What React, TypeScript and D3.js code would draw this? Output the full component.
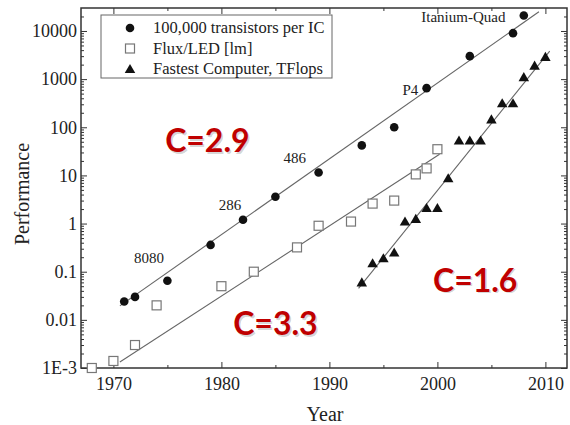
import React, { useEffect, useRef } from 'react';
import * as d3 from 'd3';

// year, value
const transistors: [number, number][] = [
  [1971, 0.024], [1972, 0.03], [1975, 0.065], [1979, 0.36], [1982, 1.2],
  [1985, 3.6], [1989, 11.5], [1993, 42], [1996, 100], [1999, 650],
  [2003, 3000], [2007, 9000], [2008, 21000],
];
const fluxLed: [number, number][] = [
  [1968, 0.001], [1970, 0.0014], [1972, 0.003], [1974, 0.02], [1980, 0.05],
  [1983, 0.1], [1987, 0.32], [1989, 0.9], [1992, 1.1], [1994, 2.6],
  [1996, 3.0], [1998, 10.5], [1999, 14], [2000, 35],
];
const computers: [number, number][] = [
  [1993, 0.06], [1994, 0.15], [1995, 0.19], [1996, 0.25], [1997, 1.1],
  [1998, 1.25], [1999, 2.1], [2000, 2.1], [2001, 8.7], [2002, 53],
  [2003, 53], [2004, 53], [2005, 146], [2006, 316], [2007, 316],
  [2008, 1100], [2009, 1900], [2010, 2900],
];

// fitted lines (end points)
const transFit: [number, number][] = [[1970.6, 0.0195], [2009.4, 25000]];
const fluxFit: [number, number][] = [[1970.6, 0.00133], [2000.2, 27.5]];
const compFit: [number, number][] = [[1992.7, 0.045], [2010.4, 3800]];

const chipLabels: { text: string; year: number; value: number }[] = [
  { text: '8080', year: 1973.3, value: 0.15 },
  { text: '286', year: 1980.8, value: 1.95 },
  { text: '486', year: 1986.8, value: 18 },
  { text: 'P4', year: 1997.5, value: 470 },
  { text: 'Itanium-Quad', year: 2002.4, value: 15000 },
];

const cLabels: { text: string; year: number; value: number }[] = [
  { text: 'C=2.9', year: 1978.7, value: 30 },
  { text: 'C=3.3', year: 1985, value: 0.0048 },
  { text: 'C=1.6', year: 2003.5, value: 0.038 },
];

const legendItems = ['100,000 transistors per IC', 'Flux/LED [lm]', 'Fastest Computer, TFlops'];

const xTicks = [1970, 1980, 1990, 2000, 2010];
const xMinor = [1975, 1985, 1995, 2005];
const yTicks = [1e4, 1e3, 100, 10, 1, 0.1, 0.01, 0.001];
const yTickLabels = ['10000', '1000', '100', '10', '1', '0.1', '0.01', '1E-3'];

const W = 570;
const H = 425;
const M = { left: 81, right: 567, top: 8, bottom: 368 };
const serif = '"Liberation Serif", "Times New Roman", serif';

export default function App() {
  const ref = useRef<SVGSVGElement>(null);

  useEffect(() => {
    const svg = d3.select(ref.current);
    svg.selectAll('*').remove();

    const x = d3.scaleLinear().domain([1967, 2012]).range([M.left, M.right]);
    const y = d3.scaleLog().domain([1e-3, 3e4]).range([M.bottom, M.top]);

    svg.append('rect').attr('width', W).attr('height', H).attr('fill', '#fff');

    const yMinor: number[] = [];
    for (let e = -3; e <= 4; e++) {
      for (let k = 2; k <= 9; k++) {
        const v = k * Math.pow(10, e);
        if (v < 3e4) yMinor.push(v);
      }
    }

    const axisColor = '#333';
    const styleAxis = (g: any) => {
      g.select('.domain').remove();
      g.selectAll('line').attr('stroke', axisColor).attr('stroke-width', 1);
      g.selectAll('text')
        .attr('font-family', serif)
        .attr('font-size', 18)
        .attr('fill', '#222');
    };

    // left
    svg.append('g').attr('transform', `translate(${M.left},0)`)
      .call(d3.axisLeft(y).tickValues(yTicks).tickSize(-6).tickPadding(4)
        .tickFormat((_d, i) => yTickLabels[i]))
      .call(styleAxis);
    svg.append('g').attr('transform', `translate(${M.left},0)`)
      .call(d3.axisLeft(y).tickValues(yMinor).tickSize(-3).tickFormat(() => ''))
      .call(styleAxis);
    // right
    svg.append('g').attr('transform', `translate(${M.right},0)`)
      .call(d3.axisRight(y).tickValues(yTicks).tickSize(-6).tickFormat(() => ''))
      .call(styleAxis);
    svg.append('g').attr('transform', `translate(${M.right},0)`)
      .call(d3.axisRight(y).tickValues(yMinor).tickSize(-3).tickFormat(() => ''))
      .call(styleAxis);
    // bottom
    svg.append('g').attr('transform', `translate(0,${M.bottom})`)
      .call(d3.axisBottom(x).tickValues(xTicks).tickSize(-6).tickPadding(9)
        .tickFormat(d3.format('d')))
      .call(styleAxis);
    svg.append('g').attr('transform', `translate(0,${M.bottom})`)
      .call(d3.axisBottom(x).tickValues(xMinor).tickSize(-3).tickFormat(() => ''))
      .call(styleAxis);
    // top
    svg.append('g').attr('transform', `translate(0,${M.top})`)
      .call(d3.axisTop(x).tickValues(xTicks).tickSize(-6).tickFormat(() => ''))
      .call(styleAxis);
    svg.append('g').attr('transform', `translate(0,${M.top})`)
      .call(d3.axisTop(x).tickValues(xMinor).tickSize(-3).tickFormat(() => ''))
      .call(styleAxis);

    svg.append('rect')
      .attr('x', M.left).attr('y', M.top)
      .attr('width', M.right - M.left).attr('height', M.bottom - M.top)
      .attr('fill', 'none').attr('stroke', axisColor).attr('stroke-width', 1.5);

    // fit lines
    const line = d3.line<[number, number]>().x(d => x(d[0])).y(d => y(d[1]));
    [transFit, fluxFit, compFit].forEach(f => {
      svg.append('path').attr('d', line(f)!)
        .attr('fill', 'none').attr('stroke', '#666').attr('stroke-width', 1.1);
    });

    const tri = d3.symbol().type(d3.symbolTriangle).size(48);
    const drawCircle = (g: any, cx: number, cy: number) =>
      g.append('circle').attr('cx', cx).attr('cy', cy).attr('r', 4.3).attr('fill', '#111');
    const drawSquare = (g: any, cx: number, cy: number) =>
      g.append('rect').attr('x', cx - 4.5).attr('y', cy - 4.5).attr('width', 9).attr('height', 9)
        .attr('fill', '#fff').attr('stroke', '#777').attr('stroke-width', 1.2);
    const drawTri = (g: any, cx: number, cy: number) =>
      g.append('path').attr('d', tri()!).attr('transform', `translate(${cx},${cy + 1})`)
        .attr('fill', '#111');

    const marks = svg.append('g');
    fluxLed.forEach(d => drawSquare(marks, x(d[0]), y(d[1])));
    transistors.forEach(d => drawCircle(marks, x(d[0]), y(d[1])));
    computers.forEach(d => drawTri(marks, x(d[0]), y(d[1])));

    // chip labels
    chipLabels.forEach(l => {
      svg.append('text').attr('x', x(l.year)).attr('y', y(l.value))
        .attr('text-anchor', 'middle')
        .attr('font-family', serif).attr('font-size', 15).attr('fill', '#222')
        .text(l.text);
    });

    // C labels
    cLabels.forEach(l => {
      const t = svg.append('g').attr('transform', `translate(${x(l.year)},${y(l.value)})`);
      t.append('text').attr('x', 1.5).attr('y', 1.5).attr('text-anchor', 'middle')
        .attr('font-family', 'Lato, "Open Sans", sans-serif').attr('font-weight', 'bold')
        .attr('font-size', 32).attr('fill', 'rgba(0,0,0,0.18)').text(l.text);
      t.append('text').attr('text-anchor', 'middle')
        .attr('font-family', 'Lato, "Open Sans", sans-serif').attr('font-weight', 'bold')
        .attr('font-size', 32).attr('fill', '#c00000').text(l.text);
    });

    // legend
    const lg = svg.append('g');
    lg.append('rect').attr('x', 101).attr('y', 15).attr('width', 231).attr('height', 63)
      .attr('fill', '#fff').attr('stroke', '#666').attr('stroke-width', 1);
    const drawers = [drawCircle, drawSquare, drawTri];
    legendItems.forEach((name, i) => {
      const cy = 28 + i * 20.5;
      drawers[i](lg, 130, cy);
      lg.append('text').attr('x', 153).attr('y', cy).attr('dy', '0.33em')
        .attr('font-family', serif).attr('font-size', 16.5).attr('fill', '#222')
        .text(name);
    });

    // axis titles
    svg.append('text').attr('x', (M.left + M.right) / 2 + 1).attr('y', 421)
      .attr('text-anchor', 'middle').attr('font-family', serif).attr('font-size', 20)
      .attr('fill', '#222').text('Year');
    svg.append('text')
      .attr('transform', `translate(29,${(M.top + M.bottom) / 2 + 6}) rotate(-90)`)
      .attr('text-anchor', 'middle').attr('font-family', serif).attr('font-size', 20)
      .attr('fill', '#222').text('Performance');
  }, []);

  return (
    <div style={{ position: 'fixed', left: 0, top: 0 }}>
      <svg ref={ref} width={W} height={H} style={{ display: 'block' }} />
    </div>
  );
}
